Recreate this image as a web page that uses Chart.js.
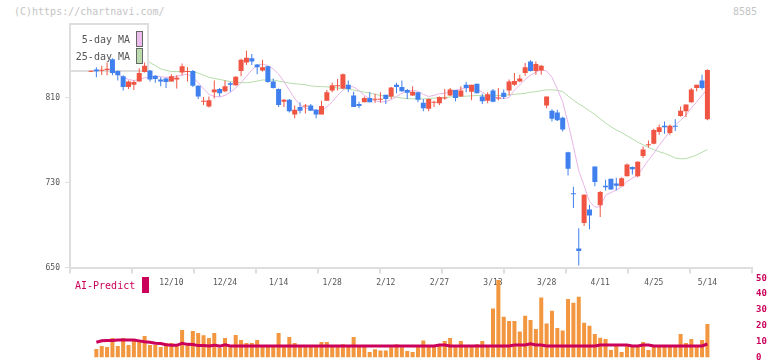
<!DOCTYPE html>
<html><head><meta charset="utf-8">
<script src="https://cdn.jsdelivr.net/npm/chart.js@4.4.1/dist/chart.umd.min.js"></script>
<style>
html,body{margin:0;padding:0;background:#fff;width:772px;height:361px;overflow:hidden;font-family:'DejaVu Sans Mono',monospace;}
#wm{position:absolute;left:14px;top:6px;font-size:10px;line-height:12px;color:#c4c4c4;white-space:pre;}
#code{position:absolute;right:15px;top:6px;font-size:10px;line-height:12px;color:#c4c4c4;}
#c1{position:absolute;left:0;top:0;}
#c2{position:absolute;left:0;top:268px;}
</style></head><body>
<div id="wm">(C)https://chartnavi.com/</div>
<div id="code">8585</div>
<canvas id="c1" width="772" height="300"></canvas>
<canvas id="c2" width="772" height="93"></canvas>
<script>
const dates = ['11/19','11/20','11/21','11/22','11/25','11/26','11/27','11/28','11/29',
'12/2','12/3','12/4','12/5','12/6','12/9','12/10','12/11','12/12','12/13','12/16','12/17','12/18','12/19','12/20','12/23','12/24','12/25','12/26','12/27','12/30',
'1/6','1/7','1/8','1/9','1/10','1/14','1/15','1/16','1/17','1/20','1/21','1/22','1/23','1/24','1/27','1/28','1/29','1/30','1/31',
'2/3','2/4','2/5','2/6','2/7','2/10','2/12','2/13','2/14','2/17','2/18','2/19','2/20','2/21','2/25','2/26','2/27','2/28',
'3/3','3/4','3/5','3/6','3/7','3/10','3/11','3/12','3/13','3/14','3/17','3/18','3/19','3/21','3/24','3/25','3/26','3/27','3/28','3/31',
'4/1','4/2','4/3','4/4','4/7','4/8','4/9','4/10','4/11','4/14','4/15','4/16','4/17','4/18','4/21','4/22','4/23','4/24','4/25','4/28','4/30',
'5/1','5/2','5/7','5/8','5/9','5/12','5/13','5/14'];

const labelDates = ['12/10','12/24','1/14','1/28','2/12','2/27','3/13','3/28','4/11','4/25','5/14'];
const priceTicks = [650, 730, 810];
const volTicks = [0, 10, 20, 30, 40, 50];

const opens = [834.3,836.3,835.2,836,846,835,830,820,822,825,
834,835.5,830.5,827,828,825,827,833.5,834,835,
821,806,801.5,815,818,816,823.5,821.5,835,843,
847,841,835.5,839.5,825,818,806,808,794,801,
801.5,802.5,798.5,794,807,816.5,820.5,818.5,822,812,
804,805.5,809.5,808,808,812.5,811,822,820,817,
812,815,805,799.5,805,804.5,809,812,817,811,
822,815.5,823,811,807,816.5,809,814.5,816.5,822,
825,833,844,835,835.5,802.5,797.5,796,791,758.5,
719.5,668,692,704.5,745,708.5,727,733.5,729,726.5,
736,744.5,736,755,765,766.5,777.5,783.5,776.5,783.5,
792.5,797,805.5,819,826,789.5];

const highs = [835.5,838.5,840,843,847,835.5,831,826,826,837.5,
843,836,831,829,828.5,832,831,842,838.5,836,
821.5,810.5,811,826,819,826,824.5,830,846.5,854,
851,841.5,845.5,840,828,818.5,808.5,808.5,802.5,805.5,
804,804,799,807,817,824,827.5,832.5,826,815.5,
806,811,815,813.5,815,812.5,820,824,826,818,
820.5,815,808.5,809,807,811,818,819,817,820.5,
824.5,822,823,813.5,815,818,819,817.5,827,833,
831.5,842.5,845,844,840.5,811,799,798.5,792,759,
726,687,719,709,745,722,732.5,733.5,734.5,735,
748,745,750,764,769.5,780.5,784.5,787.5,784.5,789.5,
801.5,803.5,819,822,831.5,836.5];

const lows = [834,829,831.3,831,831,826,816.5,818,817,825,
833.5,825,824,820.5,819,825,818.5,831,825,820,
808.5,803,800.5,809,811,815,815.5,821,830,840.5,
840.5,832,834.5,824,818.5,801,801,796,790.5,795,
795,797.5,790.5,794,807,815,816.5,818,815,801,
800,805.5,805.5,805,805,804,808.5,814,815.5,808.5,
811.5,805.5,797,797,801,803,808,811.5,806.5,811,
815,807.5,814,804,804.5,805.5,807.5,808.5,812,821,
824.5,830.5,834.5,831.5,831.5,800,787.5,788,778,736.5,
706,652,689,686,726.5,697.5,722.5,723.5,722.5,726.5,
736,737.5,735,753,763,766,775,776,775,778.5,
792,791.5,805,816,817.5,788.5];

const closes = [834.8,834.7,835.6,837,833,831,820,825,824.5,833,
840,827,827.5,825,824.5,830,828.5,839.5,834.6,821,
811,806.6,807.5,817.5,814,820.5,822,829.5,845.5,847.5,
844,838.5,838.5,824.5,819,803,808,797,798.5,797.5,
802,797.5,794,802,815,821.5,821,832,818,801,
802,809.5,805.5,808.6,808.6,808.5,819.5,820,816,814.5,
815.5,808,800,808.5,805.6,810.5,809.6,817.5,809.5,816.5,
819,822,814,806.5,813,806,809.6,810.5,825,825.5,
828,838.5,835,841.5,840,811,790,788.5,780,743,
719,665.5,718.5,699,730.5,721,725.5,723.5,727,734,
747,742.5,749.5,761,765.8,779.5,782,782,783.5,782.5,
797.5,803.5,817.5,822,819,836];

const ma5 = [null,null,null,null,834,832,829,827,826,827,
828.5,829.5,830,829.5,829,829,830,831,832,829,
824,818,813,811,810.5,812,815,819,824,830,
836,840,841.5,840,837,832,825,817,809,803,
800,799,798,798,801,806,812,817,820.5,820,
816.5,812,809,807,806,806,808,811,814,816,
816.5,816,813,811,812,813.5,814,815.5,817,818,
819,819.5,818,815,812,810,809.5,809,810,817,
822,827,831,834,836,835,829,818,806,786,
764,741,727,712,707,707,718,720.5,723,726,
731,734,737,744,751,757.5,765,771.5,778,784,
788.5,793.5,800,806,812,818];

const ma25 = [852,851.5,851,850.5,850,849.5,849,848.5,848,847,
845.5,843,840,837,835.5,834.5,834.5,834.5,834.5,834,
833,831,829,828,827,826,825,824.5,824,824,
824.5,825.5,826.5,826.5,826.5,825.5,824.5,823.5,823,822.5,
822,821,820.5,820.3,820,819.7,819,818.3,818,817,
816,815,814.5,813,812,811.3,810.8,810.3,809.5,809,
808.7,808.7,808.7,809,809.5,809.6,810,810.5,810.9,811,
811.3,811.6,811.8,811.8,811.8,811.8,811.8,812,812.5,813,
813.4,814,815,815.5,816.5,817.2,817.2,816.8,815.6,811.5,
807.5,804,801,797.5,794,790,786,782.5,779.5,777,
774,771,768,765.5,763,761,759,757.5,755.5,753,
752.3,752.5,754,756,758.5,761];

const volume = [null,5.4,7.3,6.7,12.3,7.3,12.3,7.9,10.4,10.4,
13.6,7.9,7.9,6.7,9.1,9.1,7.1,17.4,9.1,16.8,
15.5,14,12.3,15.5,6,12.3,6.4,14.2,11,9.1,
9.1,11,7.3,7.1,7.5,15.5,7.3,12.9,9.1,7.3,
7.1,7.4,7.3,9.8,9.8,7.3,7.2,8.3,7.3,12.9,
7.3,7.2,3.5,5.2,4.4,4.4,6.4,8.3,6.4,4.1,
3.5,7.3,10.8,7.3,7.2,7.3,10.4,12.3,7.3,10.4,
7.3,7.2,8.3,10.4,7.3,31,49,25.7,23,23,
16.4,26.4,23.7,18,37.8,21.4,29.5,18.6,17,37,
34.6,38.4,22,20,14.8,12.5,11.7,4.7,7.3,3.5,
7.3,7.2,7.3,9.8,4.7,7.3,7.2,7.3,7.3,7.2,
14.8,9.2,11.7,7.3,11,21.2];

const aiPredict = [null,9.6,10.6,10.8,10.8,11,11,11,11,10.5,
10,9.6,9,8.8,8,7.7,7.7,9,8.3,8.2,
7.5,7.5,7.3,7.8,7.2,8,7.3,7.3,7.3,7.3,
7.3,7.3,7.3,7.3,7.3,7.3,7.3,7.3,7.3,7.3,
7.3,7.3,7.3,7.3,7.3,7.3,7.3,7.3,7.3,7.3,
7.3,7.3,7.3,7.3,7.3,7.3,7.3,7.3,7.3,7.3,
7.3,7.3,7.3,7.3,7.3,7.9,7.9,7.3,7.3,7.3,
7.3,7.3,7.3,7.3,7.3,7.3,7.3,7.3,7.3,7.9,
7.9,7.9,8.6,7.9,7.9,7.3,7.3,7.3,7.3,7.3,
7.3,7.3,7.3,7.3,7.3,7.9,7.9,7.9,7.9,7.9,
7.9,7.3,7.3,7.9,7.9,7.3,7.3,7.3,7.3,7.3,
7.3,7.3,7.3,7.3,7.3,8.5];

const MONO = "'DejaVu Sans Mono', monospace";
const RED = '#f05442', BLUE = '#3f7fee', CRIMSON = '#cb005a';
const AXIS = '#dedede';
const XMIN = -3.918, XMAX = 123.32;
const YMIN = 650, YMAX = 879.2;
const idx = dates.map((d, i) => i);
const candleColor = ctx => (closes[ctx.dataIndex] >= opens[ctx.dataIndex] ? RED : BLUE);
const noPad = s => { s.paddingTop = 0; s.paddingBottom = 0; };

const maLegend = {
  id: 'maLegend',
  beforeDatasetDraw(chart, args) {
    if (args.index !== 2) return;
    const c = chart.ctx;
    c.save();
    c.fillStyle = '#fff';
    c.fillRect(70, 24, 78, 47);
    c.strokeStyle = AXIS; c.lineWidth = 2;
    c.strokeRect(70, 24, 78, 47);
    c.font = '10px ' + MONO;
    c.fillStyle = '#555';
    c.textAlign = 'right'; c.textBaseline = 'middle';
    c.fillText('5-day MA', 130, 40);
    c.fillText('25-day MA', 130, 57);
    c.lineWidth = 1; c.strokeStyle = '#666';
    c.fillStyle = '#ecbcec'; c.fillRect(136.5, 31.5, 6, 15); c.strokeRect(136.5, 31.5, 6, 15);
    c.fillStyle = '#bcdcb0'; c.fillRect(136.5, 48.5, 6, 15); c.strokeRect(136.5, 48.5, 6, 15);
    c.restore();
  }
};

new Chart(document.getElementById('c1'), {
  type: 'bar',
  data: { datasets: [
    { type: 'line', label: '25-day MA', data: ma25.map((v, i) => ({ x: i, y: v })),
      borderColor: '#b4dcaa', borderWidth: 1, pointRadius: 0, tension: 0, order: 4 },
    { type: 'line', label: '5-day MA', data: ma5.map((v, i) => ({ x: i, y: v })),
      borderColor: '#e8b4e8', borderWidth: 1, pointRadius: 0, tension: 0, order: 3 },
    { type: 'bar', label: 'wick', data: idx.map(i => ({ x: i, y: [lows[i], highs[i]] })),
      backgroundColor: candleColor, barThickness: 1, grouped: false, inflateAmount: 0, borderWidth: 0, order: 2 },
    { type: 'bar', label: 'body', data: idx.map(i => ({ x: i, y: [Math.min(opens[i], closes[i]), Math.max(opens[i], closes[i])] })),
      backgroundColor: candleColor, barThickness: 5, minBarLength: 1, grouped: false, inflateAmount: 0, borderWidth: 0, order: 1 }
  ]},
  options: {
    responsive: false, animation: false, devicePixelRatio: 1,
    layout: { padding: { left: 0, right: 20, top: 24, bottom: 0 } },
    plugins: { legend: { display: false }, tooltip: { enabled: false } },
    scales: {
      x: { type: 'linear', min: XMIN, max: XMAX, offset: false, position: 'bottom', weight: 1,
        grid: { display: false, offset: false, drawTicks: false },
        border: { display: true, color: AXIS, width: 2 },
        afterBuildTicks: s => { s.ticks = labelDates.map(d => ({ value: dates.indexOf(d) })); },
        ticks: { autoSkip: false, maxRotation: 0, padding: 11, color: '#555', font: { family: MONO, size: 8 },
          callback: v => dates[v] },
        afterFit: s => { s.height = 32.5; s.paddingLeft = 0; s.paddingRight = 0; } },
      xg: { type: 'linear', min: 0, max: 11, position: 'bottom', weight: 0, offset: false,
        ticks: { display: false, stepSize: 1 },
        grid: { drawOnChartArea: false, drawTicks: true, tickLength: 6, color: AXIS, lineWidth: 2, offset: false },
        border: { display: false },
        afterFit: s => { s.height = 0; s.paddingLeft = 0; s.paddingRight = 0; } },
      y: { type: 'linear', min: YMIN, max: YMAX, position: 'left',
        afterBuildTicks: s => { s.ticks = priceTicks.map(v => ({ value: v })); },
        ticks: { padding: 5, color: '#555', font: { family: MONO, size: 8 } },
        grid: { drawOnChartArea: false, drawTicks: true, tickLength: 5, color: AXIS, lineWidth: 1 },
        border: { display: true, color: AXIS, width: 2 },
        afterFit: s => { s.width = 70; noPad(s); } }
    }
  },
  plugins: [maLegend]
});

const aiLegend = {
  id: 'aiLegend',
  afterDraw(chart) {
    const c = chart.ctx;
    c.save();
    c.font = '10px ' + MONO;
    c.fillStyle = CRIMSON;
    c.textAlign = 'left'; c.textBaseline = 'middle';
    c.fillText('AI-Predict', 75, 18);
    c.fillRect(142, 9, 7, 16);
    c.restore();
  }
};

new Chart(document.getElementById('c2'), {
  type: 'bar',
  data: { datasets: [
    { type: 'line', label: 'AI-Predict', data: aiPredict.map((v, i) => ({ x: i, y: v })),
      borderColor: CRIMSON, borderWidth: 3, pointRadius: 0, tension: 0, order: 1 },
    { type: 'bar', label: 'Volume', data: volume.map((v, i) => ({ x: i, y: v })),
      backgroundColor: '#f2963f', barThickness: 4, inflateAmount: 0, borderWidth: 0, order: 2 }
  ]},
  options: {
    responsive: false, animation: false, devicePixelRatio: 1,
    layout: { padding: { left: 70, right: 0, top: 10.3, bottom: 3.5 } },
    plugins: { legend: { display: false }, tooltip: { enabled: false } },
    scales: {
      x: { type: 'linear', min: XMIN, max: XMAX, display: false, offset: false },
      y: { type: 'linear', min: 0, max: 50, position: 'right',
        afterBuildTicks: s => { s.ticks = volTicks.map(v => ({ value: v })); },
        ticks: { padding: 4, color: CRIMSON, font: { family: MONO, size: 9, weight: 'bold' } },
        grid: { display: false, drawTicks: false },
        border: { display: false },
        afterFit: s => { s.width = 20; noPad(s); } }
    }
  },
  plugins: [aiLegend]
});
</script></body></html>
